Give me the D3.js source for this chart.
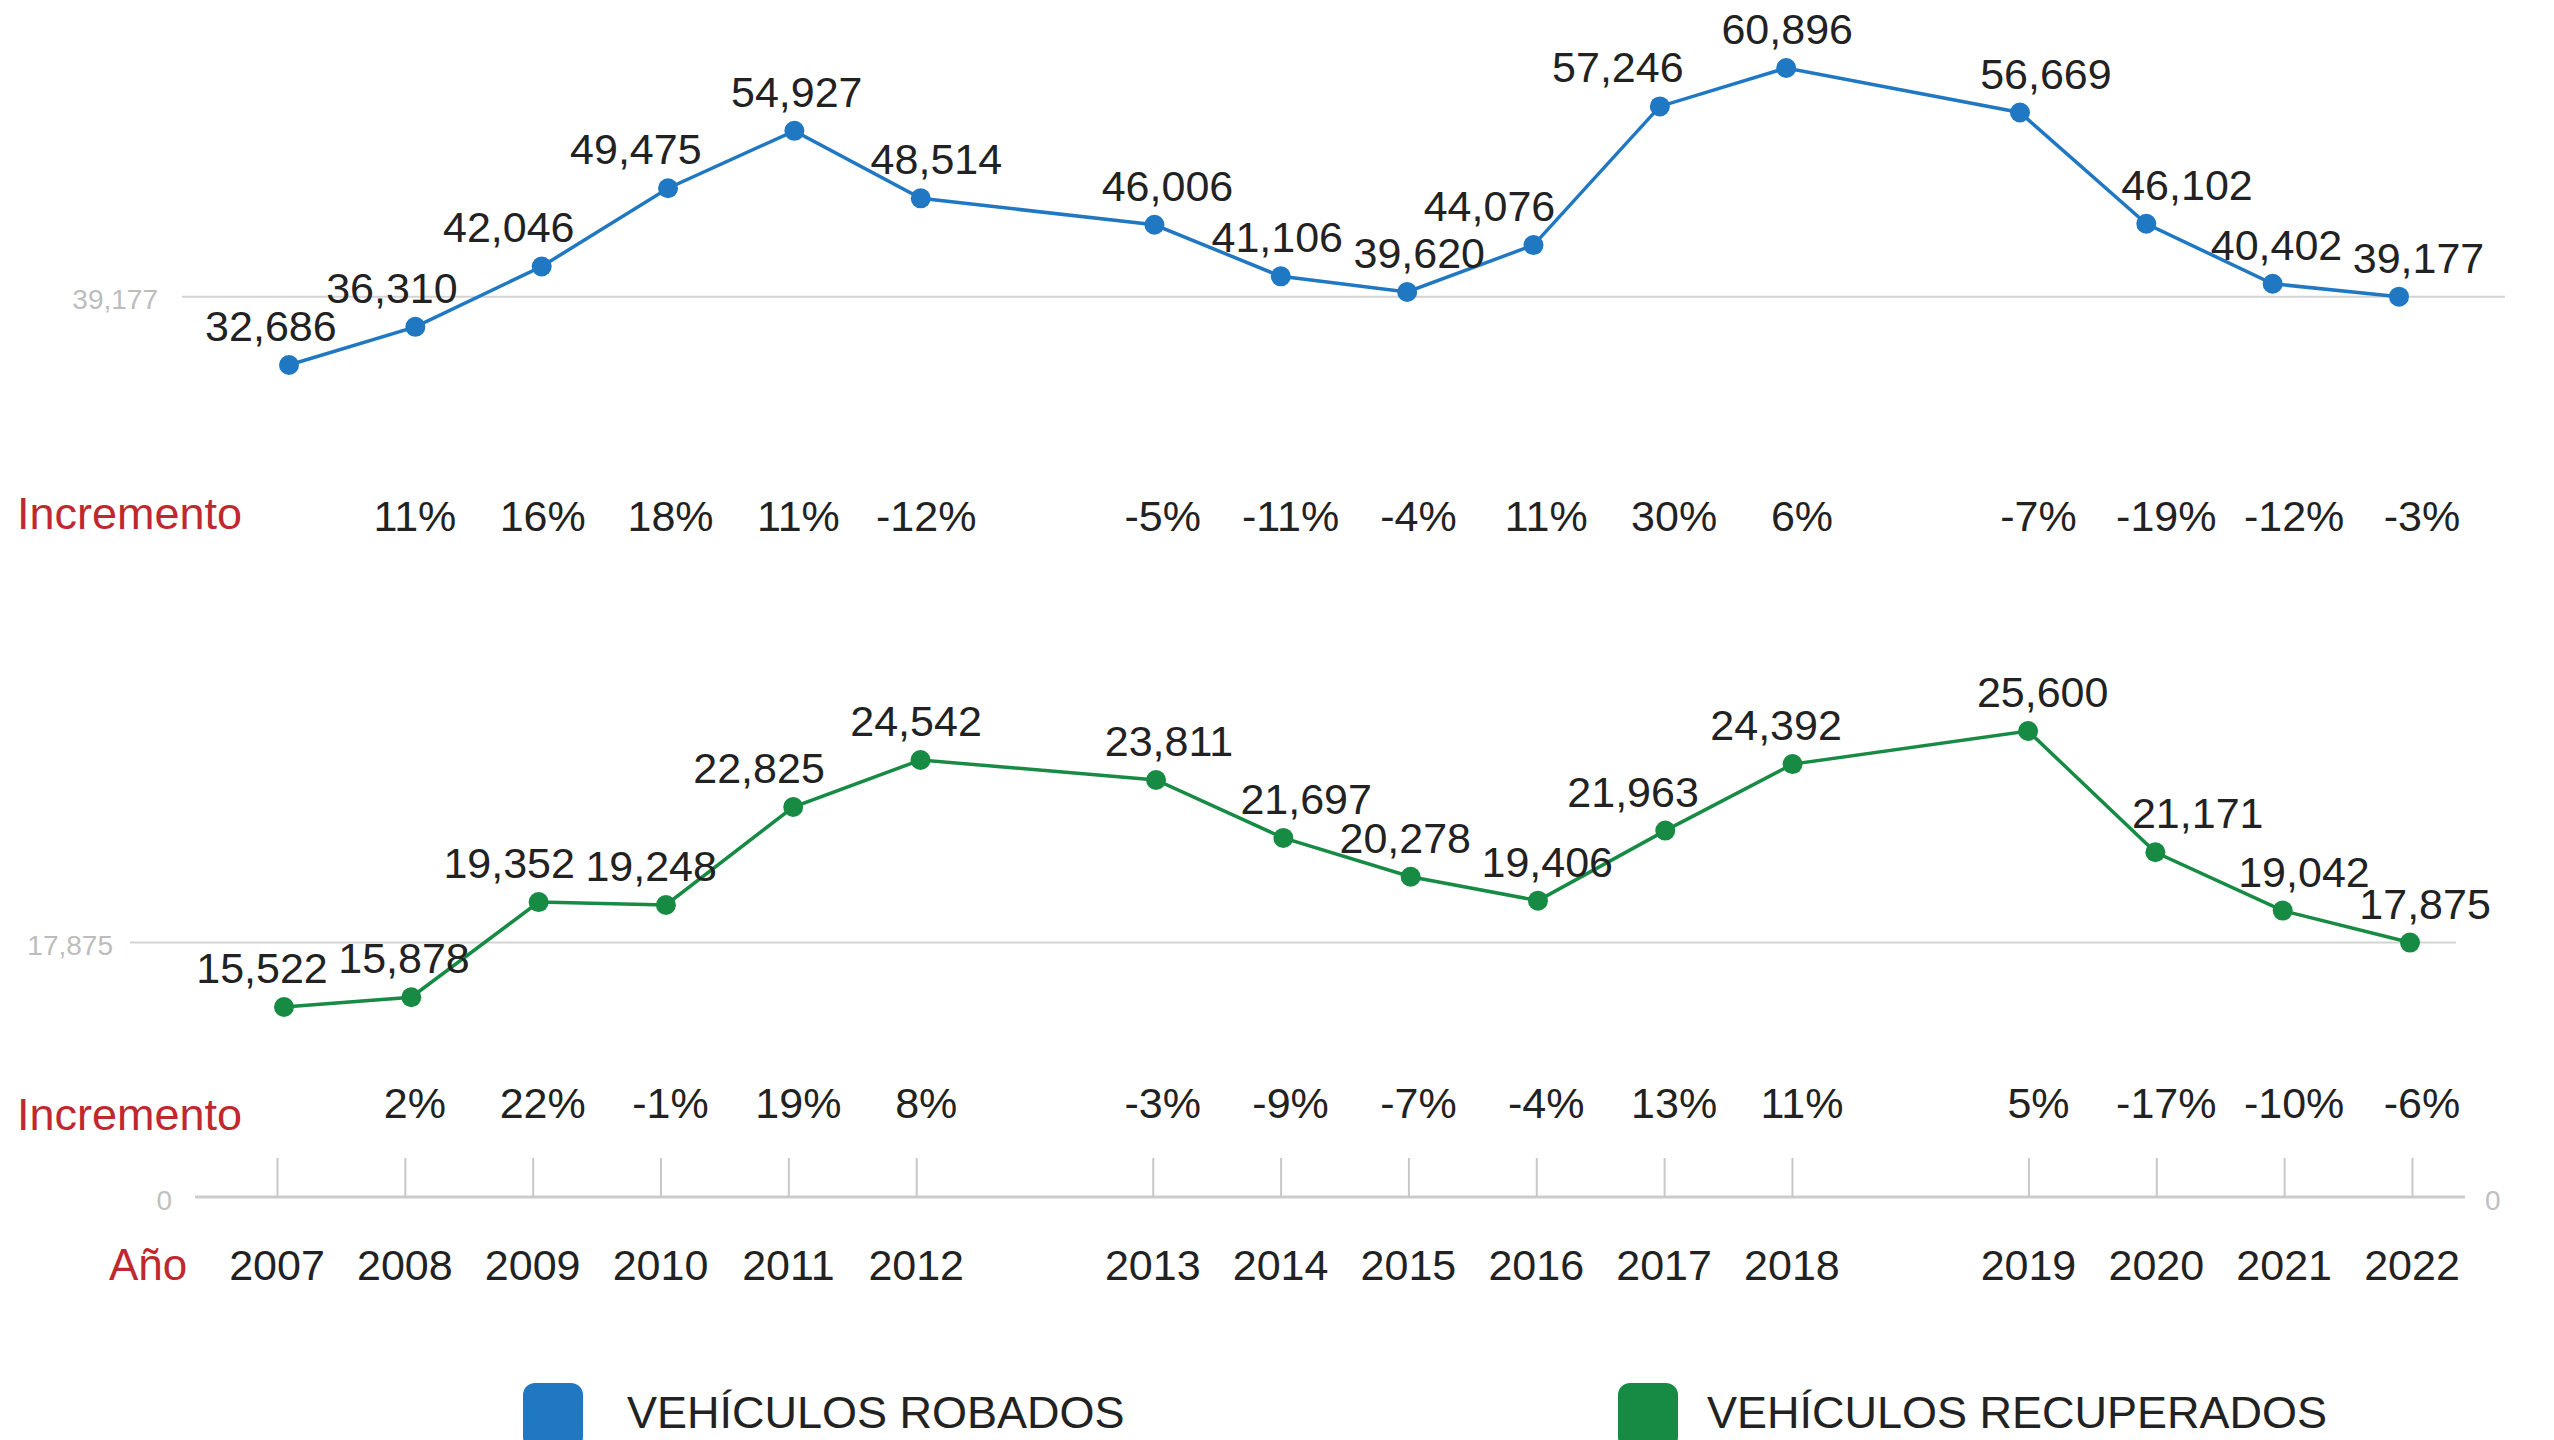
<!DOCTYPE html>
<html>
<head>
<meta charset="utf-8">
<script src="https://cdn.jsdelivr.net/npm/d3@7"></script>
<style>
  body { margin: 0; background: #fff; }
  text { font-family: "Liberation Sans", Arial, Helvetica, sans-serif; }
</style>
</head>
<body>
<div id="main"></div>
<script>
const w = 2554, h = 1440;

// data
const years = [2007, 2008, 2009, 2010, 2011, 2012, 2013, 2014, 2015, 2016, 2017, 2018, 2019, 2020, 2021, 2022];
const robados = [32686, 36310, 42046, 49475, 54927, 48514, 46006, 41106, 39620, 44076, 57246, 60896, 56669, 46102, 40402, 39177];
const recuperados = [15522, 15878, 19352, 19248, 22825, 24542, 23811, 21697, 20278, 19406, 21963, 24392, 25600, 21171, 19042, 17875];
const incRobados = [null, 11, 16, 18, 11, -12, -5, -11, -4, 11, 30, 6, -7, -19, -12, -3];
const incRecuperados = [null, 2, 22, -1, 19, 8, -3, -9, -7, -4, 13, 11, 5, -17, -10, -6];
const gapYears = [2012, 2018];   // wider spacing after these years
const seriesNames = ['VEHÍCULOS ROBADOS', 'VEHÍCULOS RECUPERADOS'];

const blue = '#1f78c1', green = '#178b44', red = '#c0282f';
const fmt = d3.format(',');

// position of a year along the axis (extra room after gap years)
const slot = (yr) => (yr - years[0]) + 0.85 * gapYears.filter(g => yr > g).length;
const slotMax = slot(years[years.length - 1]);

const xTick = d3.scaleLinear().domain([0, slotMax]).range([277, 2412]);
const xTop = d3.scaleLinear().domain([0, slotMax]).range([289, 2399]);
const xBot = d3.scaleLinear().domain([0, slotMax]).range([284, 2410]);

const yTop = d3.scaleLinear().domain(d3.extent(robados)).range([365, 68]);
const yBot = d3.scaleLinear().domain(d3.extent(recuperados)).range([1007, 731]);

const svg = d3.select('#main')
              .append('svg')
              .attr('width', w)
              .attr('height', h);

// reference gridlines at last value
function gridLine(y, x0, x1, labelX, value) {
  svg.append('line')
     .attr('x1', x0).attr('x2', x1)
     .attr('y1', y).attr('y2', y)
     .attr('stroke', '#d3d3d3')
     .attr('stroke-width', 2);
  svg.append('text')
     .attr('x', labelX)
     .attr('y', y + 12)
     .attr('text-anchor', 'end')
     .attr('font-size', 28)
     .attr('fill', '#bdbdbd')
     .text(fmt(value));
}
gridLine(yTop(robados[robados.length - 1]), 182, 2505, 158, robados[robados.length - 1]);
gridLine(yBot(recuperados[recuperados.length - 1]), 130, 2456, 113, recuperados[recuperados.length - 1]);

// simple label placement: shift away from the line slope, then push overlaps apart
function placeLabels(xs, ys) {
  const n = xs.length;
  const labels = xs.map((x, i) => {
    const i0 = Math.max(0, i - 1), i1 = Math.min(n - 1, i + 1);
    const s = (ys[i1] - ys[i0]) / (xs[i1] - xs[i0]);
    const dx = Math.max(-60, Math.min(60, s * 60));
    return {x: x + dx, y: ys[i] - 24, w: 136, h: 30};
  });
  for (let iter = 0; iter < 40; iter++) {
    for (let i = 1; i < n; i++) {
      const a = labels[i - 1], b = labels[i];
      const ox = (a.x + a.w / 2) - (b.x - b.w / 2) + 6;
      const oy = a.h - Math.abs(a.y - b.y);
      if (ox > 0 && oy > 0) { a.x -= ox / 2; b.x += ox / 2; }
    }
  }
  return labels;
}

function drawSeries(values, xScale, yScale, color) {
  const pts = values.map((v, i) => [xScale(slot(years[i])), yScale(v)]);

  svg.append('path')
     .attr('d', d3.line()(pts))
     .attr('fill', 'none')
     .attr('stroke', color)
     .attr('stroke-width', 3.5);

  svg.append('g')
     .selectAll('circle')
     .data(pts)
     .enter()
     .append('circle')
     .attr('cx', d => d[0])
     .attr('cy', d => d[1])
     .attr('r', 10)
     .attr('fill', color);

  const labels = placeLabels(pts.map(d => d[0]), pts.map(d => d[1]));
  svg.append('g')
     .selectAll('text')
     .data(values)
     .enter()
     .append('text')
     .attr('x', (d, i) => labels[i].x)
     .attr('y', (d, i) => labels[i].y)
     .attr('text-anchor', 'middle')
     .attr('font-size', 43)
     .attr('fill', '#222')
     .text(d => fmt(d));
}

drawSeries(robados, xTop, yTop, blue);
drawSeries(recuperados, xBot, yBot, green);

// Incremento rows
function incrementRow(inc, yLabel, yVals) {
  svg.append('text')
     .attr('x', 17)
     .attr('y', yLabel)
     .attr('font-size', 45)
     .attr('fill', red)
     .text('Incremento');

  const rows = inc.map((v, i) => ({year: years[i], v: v}))
                  .filter(d => d.v !== null);
  svg.append('g')
     .selectAll('text')
     .data(rows)
     .enter()
     .append('text')
     .attr('x', d => xTick(slot(d.year)) + 10)
     .attr('y', yVals)
     .attr('text-anchor', 'middle')
     .attr('font-size', 43)
     .attr('fill', '#222')
     .text(d => d.v + '%');
}
incrementRow(incRobados, 529, 531);
incrementRow(incRecuperados, 1130, 1118);

// bottom axis
const axisY = 1197;
svg.append('line')
   .attr('x1', 195).attr('x2', 2465)
   .attr('y1', axisY).attr('y2', axisY)
   .attr('stroke', '#cccccc')
   .attr('stroke-width', 3);

const axisG = svg.append('g')
                 .attr('transform', 'translate(0,' + axisY + ')')
                 .call(d3.axisBottom(xTick)
                         .tickValues(years.map(slot))
                         .tickSize(-39)
                         .tickFormat(''));
axisG.select('.domain').remove();
axisG.selectAll('.tick line')
     .attr('stroke', '#c8c8c8')
     .attr('stroke-width', 2);

svg.append('text').attr('x', 172).attr('y', 1210).attr('text-anchor', 'end')
   .attr('font-size', 28).attr('fill', '#c0c0c0').text('0');
svg.append('text').attr('x', 2485).attr('y', 1210)
   .attr('font-size', 28).attr('fill', '#c0c0c0').text('0');

svg.append('text')
   .attr('x', 109)
   .attr('y', 1280)
   .attr('font-size', 44)
   .attr('fill', red)
   .text('Año');

svg.append('g')
   .selectAll('text')
   .data(years)
   .enter()
   .append('text')
   .attr('x', d => xTick(slot(d)))
   .attr('y', 1280)
   .attr('text-anchor', 'middle')
   .attr('font-size', 43)
   .attr('fill', '#222')
   .text(d => d);

// legend
const legendX = [{box: 523, text: 627}, {box: 1618, text: 1707}];
const legend = svg.append('g')
                  .selectAll('g')
                  .data(seriesNames)
                  .enter()
                  .append('g');
legend.append('rect')
      .attr('x', (d, i) => legendX[i].box)
      .attr('y', 1383)
      .attr('width', 60)
      .attr('height', 66)
      .attr('rx', 12)
      .attr('fill', (d, i) => i === 0 ? blue : green);
legend.append('text')
      .attr('x', (d, i) => legendX[i].text)
      .attr('y', 1428)
      .attr('font-size', 45)
      .attr('fill', '#222')
      .text(d => d);
</script>
</body>
</html>
